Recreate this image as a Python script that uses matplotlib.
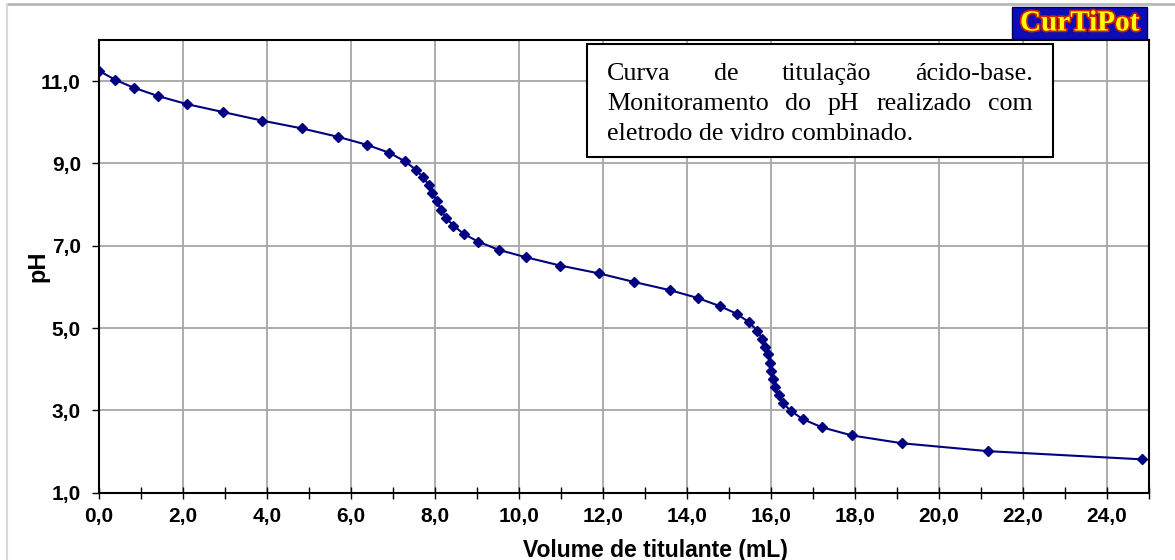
"""Curva de titulação ácido-base (estilo CurTiPot / Excel)."""

import matplotlib.pyplot as plt
import matplotlib.patheffects as pe
from matplotlib.patches import Rectangle
from matplotlib.lines import Line2D
from matplotlib.ticker import MultipleLocator, FuncFormatter

NAVY = "#000080"
GRID = "#a6a6a6"

volume = [0.00, 0.39, 0.83, 1.40, 2.10, 2.95, 3.89, 4.84, 5.68, 6.39,
          6.91, 7.29, 7.54, 7.72, 7.86, 7.94, 8.04, 8.14, 8.26, 8.44,
          8.68, 9.03, 9.52, 10.17, 10.98, 11.90, 12.74, 13.60, 14.26, 14.79,
          15.18, 15.48, 15.67, 15.79, 15.86, 15.93, 15.97, 16.01, 16.04, 16.10,
          16.18, 16.28, 16.47, 16.75, 17.21, 17.93, 19.13, 21.16, 24.84]
ph = [11.25, 11.03, 10.84, 10.64, 10.44, 10.25, 10.04, 9.85, 9.65, 9.45,
      9.26, 9.05, 8.85, 8.66, 8.47, 8.28, 8.08, 7.88, 7.68, 7.49,
      7.29, 7.10, 6.90, 6.72, 6.52, 6.33, 6.12, 5.92, 5.73, 5.53,
      5.35, 5.14, 4.94, 4.74, 4.55, 4.37, 4.16, 3.96, 3.76, 3.56,
      3.37, 3.18, 2.99, 2.79, 2.59, 2.39, 2.20, 2.01, 1.81]

note_lines = [["Curva", "de", "titulação", "ácido-base."],
              ["Monitoramento", "do", "pH", "realizado", "com"],
              ["eletrodo de vidro combinado."]]

W, H = 1175, 560
fig = plt.figure(figsize=(W / 100, H / 100), dpi=100)


def fx(px):
    return px / W


def fy(py):
    return 1 - py / H


ax = fig.add_axes([fx(99), fy(492.7), fx(1149 - 99), (492.7 - 40) / H])
ax.plot(volume, ph, color=NAVY, linewidth=1.5, marker="D", markersize=5.5,
        markerfacecolor=NAVY, markeredgecolor=NAVY, zorder=3)

ax.set_xlim(0, 25)
ax.set_ylim(1, 12)
ax.xaxis.set_major_locator(MultipleLocator(2))
ax.xaxis.set_minor_locator(MultipleLocator(1))
ax.set_yticks([1, 3, 5, 7, 9, 11])
comma = FuncFormatter(lambda v, p: f"{v:.1f}".replace(".", ","))
ax.xaxis.set_major_formatter(comma)
ax.yaxis.set_major_formatter(comma)
ax.grid(True, color=GRID, linewidth=1.3)
ax.set_axisbelow(True)

for lab in ax.get_xticklabels() + ax.get_yticklabels():
    lab.set_fontweight("bold")
    lab.set_family("Liberation Sans")
ax.tick_params(axis="x", which="both", direction="inout", length=8,
               width=1, labelsize=15, pad=6)
ax.tick_params(axis="y", direction="out", length=5, width=1,
               labelsize=15, pad=8)
for s in ax.spines.values():
    s.set_linewidth(1.5)
    s.set_color("black")

fig.text(fx(655), fy(550), "Volume de titulante (mL)", ha="center",
         va="center", fontsize=16.5, fontweight="bold", family="Liberation Sans")
fig.text(fx(38), fy(266), "pH", rotation=90, ha="center", va="center",
         fontsize=17, fontweight="bold", family="Liberation Sans")

# caixa de texto
fig.patches.append(Rectangle((fx(587), fy(157)), fx(1053 - 587), (157 - 44) / H,
                             transform=fig.transFigure, facecolor="white",
                             edgecolor="black", linewidth=1.5, zorder=5))
renderer = fig.canvas.get_renderer()
left, right = 607, 1033
baselines = [80, 110, 140]
for words, base in zip(note_lines, baselines):
    objs = [fig.text(fx(left), fy(base), w, fontsize=18.7, family="Liberation Serif",
                     va="baseline", ha="left", zorder=6) for w in words]
    if len(objs) > 1:
        widths = [o.get_window_extent(renderer).width for o in objs]
        gap = (right - left - sum(widths)) / (len(objs) - 1)
        x = left
        for o, wd in zip(objs, widths):
            o.set_x(fx(x))
            x += wd + gap

# logotipo
fig.patches.append(Rectangle((fx(1012), fy(39)), fx(1147 - 1012), 32 / H,
                             transform=fig.transFigure, facecolor="#0c0cb8",
                             edgecolor="#000050", linewidth=1, zorder=5))
fig.text(fx(1079.5), fy(23), "CurTiPot", ha="center", va="center",
         fontsize=21, fontweight="bold", family="Liberation Serif",
         color="#ffff00", zorder=6,
         path_effects=[pe.withStroke(linewidth=2.5, foreground="#d02000")])

# moldura cinza externa
fig.add_artist(Line2D([fx(7), 1], [fy(4), fy(4)], color="#b8b8b8", linewidth=2))
fig.add_artist(Line2D([fx(7), fx(7)], [0, fy(4)], color="#d8d8d8", linewidth=1.5))

fig.savefig("out.png", dpi=100)
